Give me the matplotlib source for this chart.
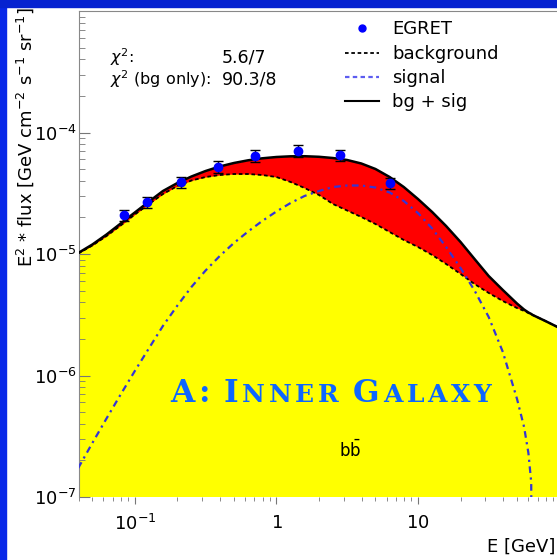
import numpy as np
import matplotlib
matplotlib.use("Agg")
import matplotlib.pyplot as plt
from matplotlib.lines import Line2D
from matplotlib.patches import Rectangle
from matplotlib.ticker import NullFormatter
from matplotlib.transforms import IdentityTransform

# model curves, E in GeV, E^2 * flux in GeV cm^-2 s^-1 sr^-1
energy = [0.0398, 0.0501, 0.0631, 0.0794, 0.100, 0.126, 0.158, 0.200, 0.251, 0.316,
          0.398, 0.501, 0.631, 0.794, 1.00, 1.26, 1.58, 2.00, 2.51, 3.16,
          3.98, 5.01, 6.31, 7.94, 10.0, 12.6, 15.8, 20.0, 25.1, 31.6,
          39.8, 50.1, 56.2, 60.3, 63.1, 64.6, 79.4, 100.0]

background = np.array([1.009, 1.175, 1.406, 1.716, 2.114, 2.579, 3.117, 3.628, 4.025, 4.301,
                       4.468, 4.553, 4.553, 4.468, 4.301, 3.914, 3.493, 3.059, 2.579, 2.280,
                       2.016, 1.765, 1.517, 1.304, 1.142, 0.981, 0.828, 0.685, 0.566, 0.478,
                       0.410, 0.359, 0.340, 0.327, 0.318, 0.315, 0.281, 0.246]) * 1e-5

signal = np.array([0.0173, 0.0278, 0.0443, 0.0698, 0.109, 0.168, 0.256, 0.377, 0.535, 0.731,
                   0.963, 1.232, 1.531, 1.869, 2.238, 2.629, 3.002, 3.300, 3.559, 3.663,
                   3.663, 3.526, 3.208, 2.731, 2.175, 1.622, 1.142, 0.767, 0.501, 0.303,
                   0.156, 0.0641, 0.0377, 0.0230, 0.0133, 0.0001, 0.0, 0.0]) * 1e-5

total = np.array([1.019, 1.197, 1.447, 1.782, 2.196, 2.705, 3.300, 3.841, 4.343, 4.820,
                  5.252, 5.610, 5.904, 6.132, 6.285, 6.368, 6.380, 6.310, 6.166, 5.938,
                  5.557, 5.007, 4.301, 3.559, 2.836, 2.217, 1.700, 1.255, 0.910, 0.659,
                  0.505, 0.391, 0.349, 0.330, 0.321, 0.315, 0.281, 0.246]) * 1e-5

# EGRET inner galaxy points
egret_e = [0.084, 0.122, 0.212, 0.387, 0.707, 1.41, 2.83, 6.32]
egret_flux = np.array([2.09, 2.67, 3.89, 5.24, 6.44, 7.08, 6.53, 3.84]) * 1e-5
egret_err = np.array([0.23, 0.29, 0.42, 0.57, 0.70, 0.78, 0.71, 0.42]) * 1e-5

chi2_fit = "5.6/7"
chi2_bg = "90.3/8"

x_ticks = [0.1, 1, 10]
x_ticklabels = [r"$\mathdefault{10^{-1}}$", r"$\mathdefault{1}$", r"$\mathdefault{10}$"]
y_ticks = [1e-7, 1e-6, 1e-5, 1e-4]
y_ticklabels = [r"$\mathdefault{10^{-7}}$", r"$\mathdefault{10^{-6}}$",
                r"$\mathdefault{10^{-5}}$", r"$\mathdefault{10^{-4}}$"]

W, H = 557, 560


def fx(x):
    return x / W


def fy(y):
    return 1 - y / H


fig = plt.figure(figsize=(W / 100, H / 100), dpi=100)
fig.patch.set_facecolor("white")
ax = fig.add_axes([fx(78.5), fy(497), 1 - fx(78.5), fy(11) - fy(497)])
ax.set_xscale("log")
ax.set_yscale("log")

ax.fill_between(energy, 1e-9, background, color="#ffff00", lw=0, zorder=1)
ax.fill_between(energy, background, total, color="#ff0000", lw=0, zorder=1)

ax.plot(energy, total, color="black", lw=1.8, zorder=3)
ax.plot(energy, background, color="black", ls=(0, (2, 1.5)), lw=1.3, zorder=3)
sig = np.where(signal > 0, signal, np.nan)
ax.plot(energy, sig, color="#3535d5", ls=(0, (3, 2, 1, 2)), lw=1.6, zorder=3)

ax.errorbar(egret_e, egret_flux, yerr=egret_err, fmt="o", color="#0000ff", ms=6,
            ecolor="black", elinewidth=1, capsize=3.5, capthick=1, zorder=5)

ax.set_xlim(0.04, 96)
ax.set_ylim(1e-7, 1e-3)
ax.set_xticks(x_ticks, x_ticklabels)
ax.set_yticks(y_ticks, y_ticklabels)
ax.xaxis.set_minor_formatter(NullFormatter())
ax.yaxis.set_minor_formatter(NullFormatter())

ax.tick_params(axis="y", which="both", direction="in", color="#777777", labelsize=13, pad=1.5)
ax.tick_params(axis="y", which="major", length=8)
ax.tick_params(axis="y", which="minor", length=4)
ax.tick_params(axis="x", which="both", direction="out", color="#777777", labelsize=13, pad=7)
ax.tick_params(axis="x", which="major", length=5)
ax.tick_params(axis="x", which="minor", length=3)

for side in ("right", "bottom"):
    ax.spines[side].set_visible(False)
for side in ("left", "top"):
    ax.spines[side].set_color("#888888")
    ax.spines[side].set_linewidth(0.8)

handles = [Line2D([], [], ls="none", marker="o", color="#0000ff", ms=5),
           Line2D([], [], color="black", ls=(0, (2, 1.5)), lw=1.3),
           Line2D([], [], color="#5c5cf0", ls=(0, (2, 1.5)), lw=1.6),
           Line2D([], [], color="black", lw=1.5)]
labels = ["EGRET", "background", "signal", "bg + sig"]
ax.legend(handles, labels, loc="upper left", bbox_to_anchor=(fx(345), fy(20.5)),
          bbox_transform=fig.transFigure, frameon=False, fontsize=13,
          handlelength=1.9, handletextpad=0.7, labelspacing=0.35,
          borderpad=0, borderaxespad=0)

fig.text(fx(110), fy(57), r"$\chi^2$:", fontsize=11.5, va="center")
fig.text(fx(222), fy(57), chi2_fit, fontsize=12.5, va="center")
fig.text(fx(110), fy(79.5), r"$\chi^2$ (bg only):", fontsize=11.5, va="center")
fig.text(fx(222), fy(79.5), chi2_bg, fontsize=12.5, va="center")

fig.text(fx(25), fy(7), r"E$^2$ * flux [GeV cm$^{-2}$ s$^{-1}$ sr$^{-1}$]",
         rotation=90, ha="center", va="top", fontsize=13)
fig.text(fx(555), fy(547), "E [GeV]", ha="right", va="center", fontsize=13)
fig.text(fx(350), fy(450), r"$\mathrm{b\bar{b}}$", ha="center", va="center", fontsize=12)

# panel title in small caps, drawn letter by letter with wide tracking
renderer = fig.canvas.get_renderer()
big, small = 22.5, 18
words = [("A:", ""), ("I", "NNER"), ("G", "ALAXY")]
x = 170
for first, rest in words:
    for ch, size in [(c, big) for c in first] + [(c, small) for c in rest]:
        t = fig.text(x, H - 402, ch, transform=IdentityTransform(), fontsize=size,
                     family="DejaVu Serif", weight="bold", color="#0d66ff", va="baseline")
        x = t.get_window_extent(renderer).x1 + 3.6
    x += 11

# slide frame
fig.add_artist(Rectangle((0, 0), fx(6), 1, transform=fig.transFigure,
                         color="#0828e8", zorder=10))
fig.add_artist(Rectangle((0, fy(7)), 1, 7 / H, transform=fig.transFigure,
                         color="#0622d0", zorder=10))

fig.savefig("out.png", dpi=100)
